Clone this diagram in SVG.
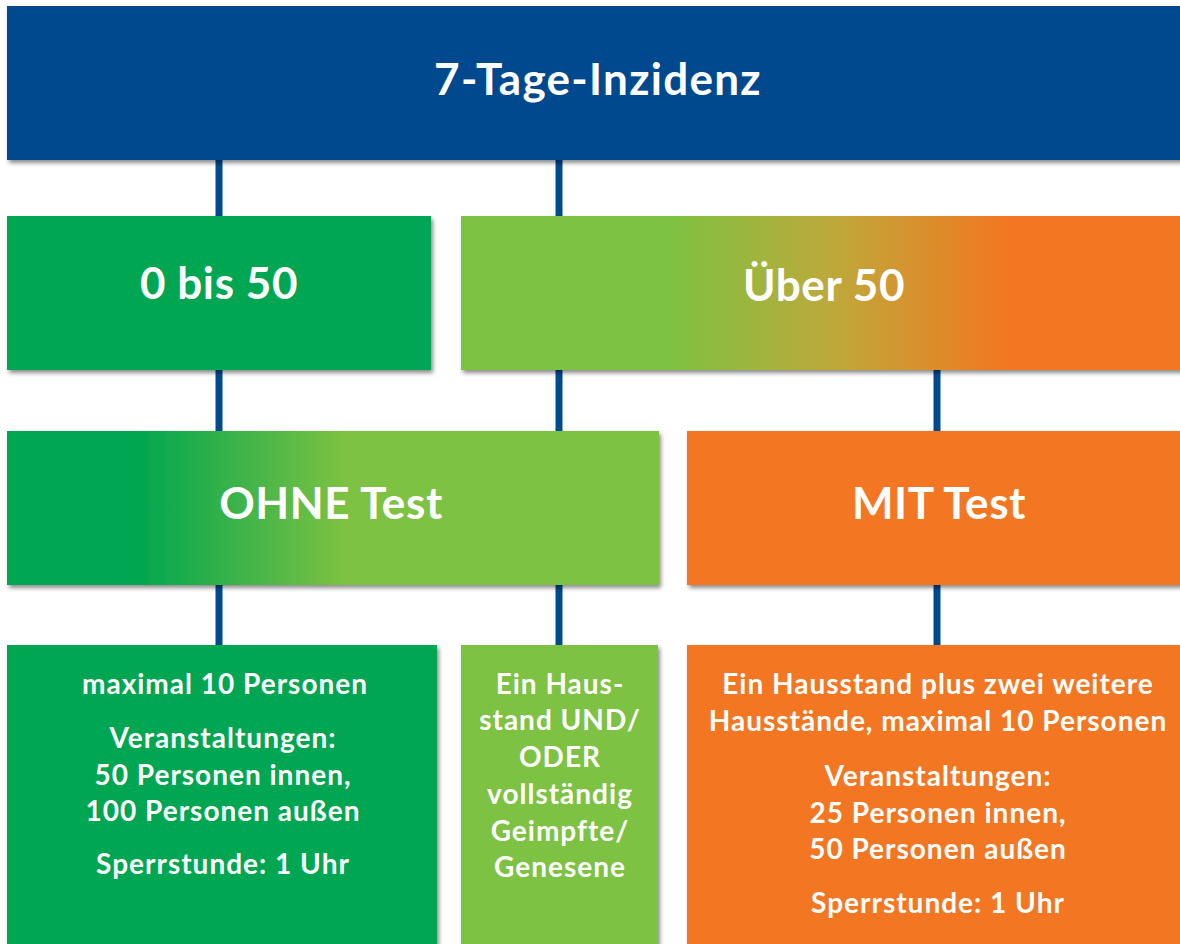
<svg xmlns="http://www.w3.org/2000/svg" width="1180" height="944" viewBox="0 0 1180 944">
<defs>
<filter id="sh" x="-5%" y="-10%" width="115%" height="130%">
<feDropShadow dx="2" dy="3" stdDeviation="2" flood-color="#000" flood-opacity="0.45"/>
</filter>
<linearGradient id="gUber" gradientUnits="userSpaceOnUse" x1="461" y1="0" x2="1180" y2="0">
<stop offset="0" stop-color="#7dc242"/>
<stop offset="0.29" stop-color="#7dc242"/>
<stop offset="0.52" stop-color="#bfa83a"/>
<stop offset="0.76" stop-color="#f37721"/>
<stop offset="1" stop-color="#f37721"/>
</linearGradient>
<linearGradient id="gOhne" gradientUnits="userSpaceOnUse" x1="7" y1="0" x2="659" y2="0">
<stop offset="0" stop-color="#00a651"/>
<stop offset="0.2" stop-color="#00a651"/>
<stop offset="0.52" stop-color="#7dc242"/>
<stop offset="1" stop-color="#7dc242"/>
</linearGradient>
</defs>
<style>
text{font-family:Lato,"Open Sans","DejaVu Sans",sans-serif;font-weight:bold;fill:#fff;text-anchor:middle;}
.big{font-size:44px;letter-spacing:0.6px;}
.ttl{font-size:44px;letter-spacing:1.3px;}
.sm{font-size:28px;letter-spacing:1px;}
.con line{stroke:#004a8f;stroke-width:7;}
</style>
<rect width="1180" height="944" fill="#fff"/>
<g class="con" id="connectors">
<line x1="219" y1="158" x2="219" y2="218"/>
<line x1="559" y1="158" x2="559" y2="218"/>
<line x1="219" y1="368" x2="219" y2="433"/>
<line x1="559" y1="368" x2="559" y2="433"/>
<line x1="937" y1="368" x2="937" y2="433"/>
<line x1="219" y1="582" x2="219" y2="647"/>
<line x1="559" y1="582" x2="559" y2="647"/>
<line x1="937" y1="582" x2="937" y2="647"/>
</g>
<g id="title">
<rect x="7" y="6" width="1180" height="154" fill="#004a8f" filter="url(#sh)"/>
<text class="ttl" x="598" y="95">7-Tage-Inzidenz</text>
</g>
<g id="n0bis50">
<rect x="7" y="216" width="424" height="154" fill="#00a651" filter="url(#sh)"/>
<text class="big" x="219" y="299">0 bis 50</text>
</g>
<g id="nUber50">
<rect x="461" y="216" width="730" height="154" fill="url(#gUber)" filter="url(#sh)"/>
<text class="big" x="824" y="301">Über 50</text>
</g>
<g id="nOhne">
<rect x="7" y="431" width="652" height="154" fill="url(#gOhne)" filter="url(#sh)"/>
<text class="big" x="331" y="519">OHNE Test</text>
</g>
<g id="nMit">
<rect x="687" y="431" width="500" height="154" fill="#f37721" filter="url(#sh)"/>
<text class="big" x="939" y="519">MIT Test</text>
</g>
<g id="nOhneDetail">
<rect x="7" y="645" width="430" height="310" fill="#00a651" filter="url(#sh)"/>
<text class="sm" x="225" y="694">maximal 10 Personen</text>
<text class="sm" x="223" y="748">Veranstaltungen:</text>
<text class="sm" x="223" y="785">50 Personen innen,</text>
<text class="sm" x="223" y="821">100 Personen außen</text>
<text class="sm" x="223" y="874">Sperrstunde: 1 Uhr</text>
</g>
<g id="nHausstand">
<rect x="461" y="645" width="197" height="310" fill="#7dc242" filter="url(#sh)"/>
<text class="sm" x="560" y="694">Ein Haus-</text>
<text class="sm" x="560" y="730">stand UND/</text>
<text class="sm" x="560" y="767">ODER</text>
<text class="sm" x="560" y="804">vollständig</text>
<text class="sm" x="560" y="841">Geimpfte/</text>
<text class="sm" x="560" y="877">Genesene</text>
</g>
<g id="nMitDetail">
<rect x="687" y="645" width="500" height="310" fill="#f37721" filter="url(#sh)"/>
<text class="sm" x="938" y="694">Ein Hausstand plus zwei weitere</text>
<text class="sm" x="938" y="731">Hausstände, maximal 10 Personen</text>
<text class="sm" x="938" y="786">Veranstaltungen:</text>
<text class="sm" x="938" y="823">25 Personen innen,</text>
<text class="sm" x="938" y="859">50 Personen außen</text>
<text class="sm" x="938" y="913">Sperrstunde: 1 Uhr</text>
</g>
</svg>
